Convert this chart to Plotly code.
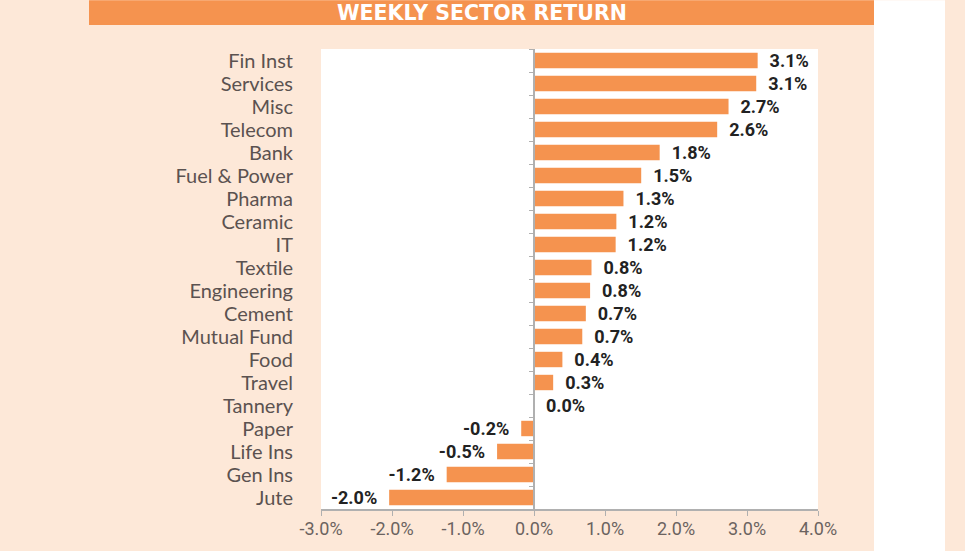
import plotly.graph_objects as go

sectors = ["Fin Inst", "Services", "Misc", "Telecom", "Bank", "Fuel & Power", "Pharma",
           "Ceramic", "IT", "Textile", "Engineering", "Cement", "Mutual Fund", "Food",
           "Travel", "Tannery", "Paper", "Life Ins", "Gen Ins", "Jute"]
returns = [3.15, 3.13, 2.74, 2.58, 1.77, 1.51, 1.26, 1.16, 1.15, 0.81, 0.79, 0.73,
           0.68, 0.40, 0.27, 0.0, -0.18, -0.52, -1.23, -2.04]
labels = ["3.1%", "3.1%", "2.7%", "2.6%", "1.8%", "1.5%", "1.3%", "1.2%", "1.2%", "0.8%",
          "0.8%", "0.7%", "0.7%", "0.4%", "0.3%", "0.0%", "-0.2%", "-0.5%", "-1.2%", "-2.0%"]
x_ticks = [-3, -2, -1, 0, 1, 2, 3, 4]
x_tick_labels = ["-3.0%", "-2.0%", "-1.0%", "0.0%", "1.0%", "2.0%", "3.0%", "4.0%"]
title_text = "WEEKLY SECTOR RETURN"

PEACH = "#fde8d8"
ORANGE = "#f5934f"
W, H = 965, 551
ML, MR, MT, MB = 321, 147, 49, 40
pw, ph = W - ML - MR, H - MT - MB


def px_x(p):
    return (p - ML) / pw


def px_y(p):
    return (H - MB - p) / ph


templates = [("\u00a0\u00a0%{text}" if v >= 0 else "%{text}\u00a0\u00a0") for v in returns]

fig = go.Figure()
fig.add_trace(go.Bar(
    x=returns, y=sectors, orientation="h",
    marker=dict(color=ORANGE, line=dict(width=0)),
    text=labels, texttemplate=templates, textposition="outside", cliponaxis=False,
    constraintext="none",
    textfont=dict(family="Roboto, Liberation Sans Narrow, sans-serif", size=18, color="#222222", weight="bold"),
    hoverinfo="skip", showlegend=False,
))
fig.add_trace(go.Scatter(
    x=[0] * len(sectors), y=sectors, yaxis="y2", mode="markers",
    marker=dict(opacity=0, size=1), hoverinfo="skip", showlegend=False,
))

axis_font = dict(family="Roboto, sans-serif", size=18, color="#6b6360")
pos0 = 3 / 7

fig.update_layout(
    width=W, height=H,
    margin=dict(l=ML, r=MR, t=MT, b=MB),
    paper_bgcolor=PEACH, plot_bgcolor="white",
    bargap=0.33,
    xaxis=dict(range=[-3, 4], tickmode="array", tickvals=x_ticks, ticktext=x_tick_labels,
               showgrid=False, zeroline=False, showline=True, linecolor="#b0b0b0", linewidth=1.5,
               ticks="outside", ticklen=5, tickcolor="#b0b0b0", tickfont=axis_font,
               ticklabelstandoff=-2, domain=[0, 1]),
    yaxis=dict(type="category", categoryarray=sectors, range=[19.5, -0.5],
               tickmode="array", tickvals=sectors, ticktext=sectors,
               showgrid=False, zeroline=False, showline=False, ticks="",
               ticklabelstandoff=27,
               tickfont=dict(family="Lato, sans-serif", size=20, color="#5b5250")),
    yaxis2=dict(type="category", categoryarray=sectors, range=[19.5, -0.5], overlaying="y",
                anchor="free", position=pos0, side="left", showticklabels=False,
                showgrid=False, zeroline=False, showline=True, linecolor="#b0b0b0", linewidth=1.5,
                ticks="outside", ticklen=4, tickcolor="#b0b0b0", tickson="boundaries"),
    shapes=[
        dict(type="rect", xref="paper", yref="paper", x0=px_x(874), x1=px_x(945), y0=px_y(560), y1=px_y(0),
             fillcolor="white", line=dict(width=0), layer="below"),
        dict(type="rect", xref="paper", yref="paper", x0=px_x(89), x1=px_x(874), y0=px_y(25), y1=px_y(0),
             fillcolor=ORANGE, line=dict(width=0)),
    ],
    annotations=[
        dict(text=title_text, xref="paper", yref="paper", x=px_x(481.5), y=px_y(13),
             xanchor="center", yanchor="middle", showarrow=False,
             font=dict(family="DejaVu Sans, sans-serif", size=20.5, color="white", weight="bold")),
    ],
)

fig.write_html("out.html", config={"displayModeBar": False},
               post_script="document.body.style.margin='0px';document.body.style.overflow='hidden';")
